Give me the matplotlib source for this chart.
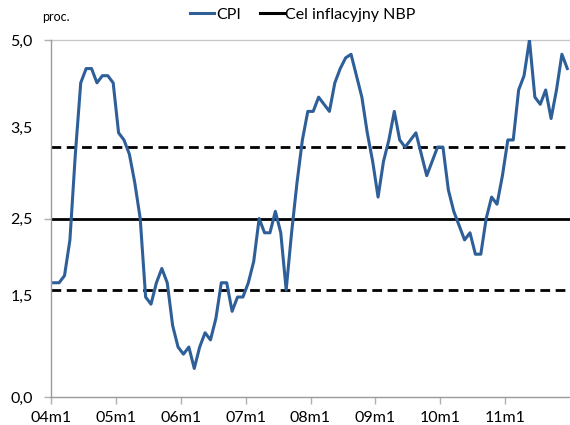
import matplotlib
matplotlib.use("Agg")
import matplotlib.pyplot as plt
from matplotlib.lines import Line2D

plt.rcParams['font.family'] = ['Lato', 'DejaVu Sans']

# CPI r/r, miesięcznie 2004m1 - 2011m12
cpi_2004 = [1.6, 1.6, 1.7, 2.2, 3.4, 4.4, 4.6, 4.6, 4.4, 4.5, 4.5, 4.4]
cpi_2005 = [3.7, 3.6, 3.4, 3.0, 2.5, 1.4, 1.3, 1.6, 1.8, 1.6, 1.0, 0.7]
cpi_2006 = [0.6, 0.7, 0.4, 0.7, 0.9, 0.8, 1.1, 1.6, 1.6, 1.2, 1.4, 1.4]
cpi_2007 = [1.6, 1.9, 2.5, 2.3, 2.3, 2.6, 2.3, 1.5, 2.3, 3.0, 3.6, 4.0]
cpi_2008 = [4.0, 4.2, 4.1, 4.0, 4.4, 4.6, 4.75, 4.8, 4.5, 4.2, 3.7, 3.3]
cpi_2009 = [2.8, 3.3, 3.6, 4.0, 3.6, 3.5, 3.6, 3.7, 3.4, 3.1, 3.3, 3.5]
cpi_2010 = [3.5, 2.9, 2.6, 2.4, 2.2, 2.3, 2.0, 2.0, 2.5, 2.8, 2.7, 3.1]
cpi_2011 = [3.6, 3.6, 4.3, 4.5, 5.0, 4.2, 4.1, 4.3, 3.9, 4.3, 4.8, 4.6]
cpi = cpi_2004 + cpi_2005 + cpi_2006 + cpi_2007 + cpi_2008 + cpi_2009 + cpi_2010 + cpi_2011

target = 2.5
band_low = 1.5
band_high = 3.5

year_labels = ["04m1", "05m1", "06m1", "07m1", "08m1", "09m1", "10m1", "11m1"]
y_labels = ["0,0", "1,5", "2,5", "3,5", "5,0"]
y_label_pos = [0.0, 1.43, 2.5, 3.78, 5.0]

blue = '#2f5f98'

fig = plt.figure(figsize=(5.7, 4.25), dpi=100)
ax = fig.add_axes([51 / 570, 1 - 397 / 425, 519 / 570, 357 / 425])

n = len(cpi)
x = [i + 0.5 for i in range(n)]
ax.axhline(band_high, color='black', lw=2.0, ls=(0, (3.5, 2)), zorder=2)
ax.axhline(band_low, color='black', lw=2.0, ls=(0, (3.5, 2)), zorder=2)
ax.axhline(target, color='black', lw=2.0, zorder=2)
ax.plot(x, cpi, color=blue, lw=2.2, zorder=3, solid_joinstyle='round')

ax.set_xlim(0, n)
ax.set_ylim(0, 5)
ax.set_xticks(range(0, 12 * len(year_labels), 12))
ax.set_xticklabels(year_labels, fontsize=11.5)
ax.set_yticks(y_label_pos)
ax.set_yticklabels(y_labels, fontsize=11.5)
for i, t in enumerate(ax.yaxis.get_major_ticks()):
    if y_label_pos[i] not in (0.0, 2.5, 5.0):
        t.tick1line.set_visible(False)

ax.axhline(5.0, color='#c8c8c8', lw=1.0, zorder=1, clip_on=False)
ax.tick_params(axis='both', color='#b0b0b0', length=5, width=1, labelcolor='black')
ax.tick_params(axis='y', pad=8)
ax.tick_params(axis='x', pad=5)
for s in ['top', 'right']:
    ax.spines[s].set_visible(False)
for s in ['left', 'bottom']:
    ax.spines[s].set_color('#9a9a9a')
    ax.spines[s].set_linewidth(1.0)

fig.text(56 / 570, 1 - 17 / 425, "proc.", fontsize=9, ha='center', va='center')

handles = [Line2D([], [], color=blue, lw=2.2), Line2D([], [], color='black', lw=2.2)]
fig.legend(handles, ["CPI", "Cel inflacyjny NBP"], loc='center', bbox_to_anchor=(303 / 570, 1 - 15 / 425),
           ncol=2, frameon=False, fontsize=11.5, handlelength=1.5, handletextpad=0.1, columnspacing=1.2)

fig.savefig("out.png", dpi=100)
